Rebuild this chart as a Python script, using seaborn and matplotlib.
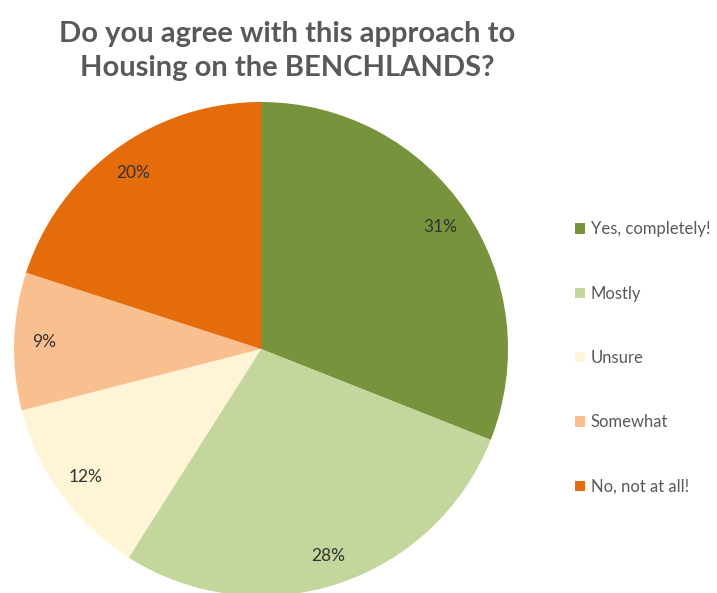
import matplotlib
matplotlib.use("Agg")
import matplotlib.pyplot as plt
import seaborn as sns
from matplotlib.patches import Patch

categories = ["Yes, completely!", "Mostly", "Unsure", "Somewhat", "No, not at all!"]
shares = [31, 28, 12, 9, 20]
colors = ["#77933C", "#C3D69B", "#FFF5D6", "#FABF8F", "#E46C0A"]
title = "Do you agree with this approach to\nHousing on the BENCHLANDS?"

sns.set_theme(style="white")
plt.rcParams["font.family"] = ["Lato", "DejaVu Sans"]

W, H = 717, 593
fig = plt.figure(figsize=(W / 100, H / 100), dpi=100)
fig.patch.set_facecolor("white")

# pie axes: radius 247 px, centre at (261, 349) from top-left
r = 247
cx, cy = 261, 349
ax = fig.add_axes([(cx - r) / W, (H - cy - r) / H, 2 * r / W, 2 * r / H])
ax.pie(
    shares,
    colors=colors,
    startangle=90,
    counterclock=False,
    radius=1,
    autopct=lambda p: f"{p:.0f}%",
    pctdistance=0.88,
    textprops=dict(color="#333333", fontsize=12.5),
    wedgeprops=dict(linewidth=0),
)
ax.set_xlim(-1, 1)
ax.set_ylim(-1, 1)
ax.set_aspect("equal")
ax.axis("off")

fig.text(287 / W, 1 - 51 / H, title, ha="center", va="center",
         fontsize=21, fontweight="bold", color="#595959", linespacing=1.4)

handles = [Patch(facecolor=c, edgecolor="none") for c in colors]
fig.legend(handles, categories, loc="center left",
           bbox_to_anchor=(575 / W, 1 - 358 / H), frameon=False,
           borderpad=0, borderaxespad=0,
           fontsize=12, labelcolor="#595959", handlelength=0.6,
           handleheight=0.6, handletextpad=0.35, labelspacing=2.9)

fig.savefig("out.png", dpi=100, facecolor="white")
